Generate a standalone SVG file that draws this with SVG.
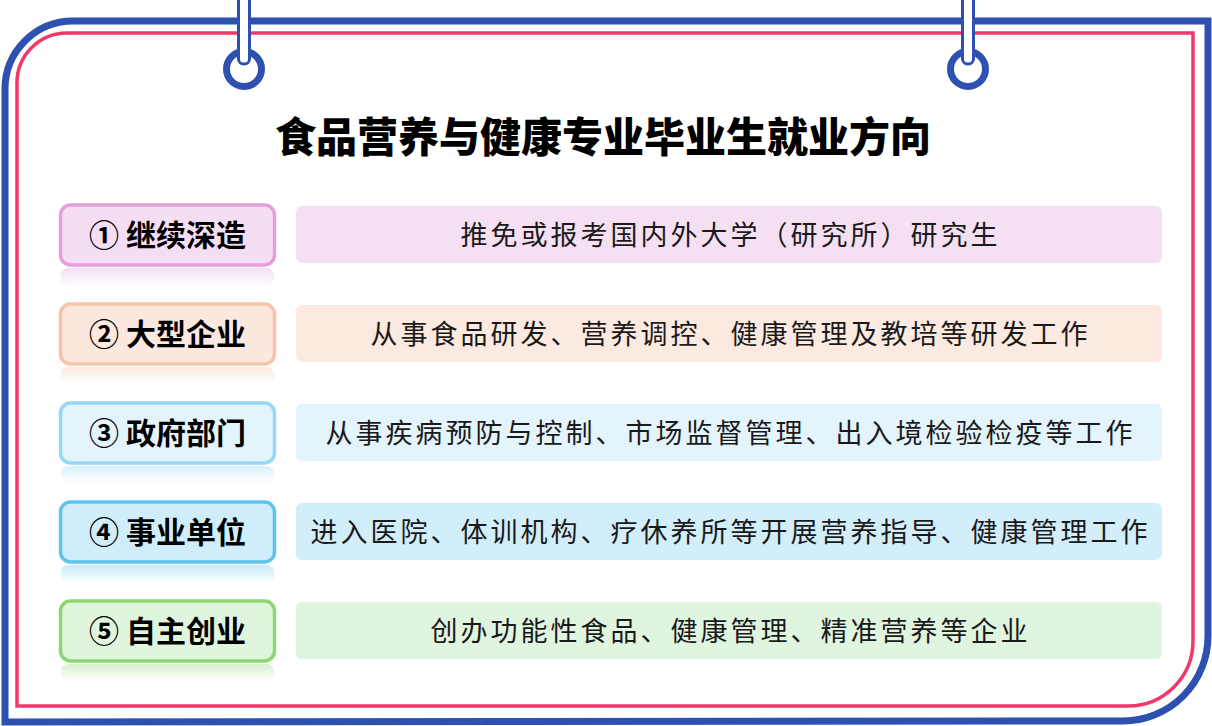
<svg xmlns="http://www.w3.org/2000/svg" width="1212" height="726" viewBox="0 0 1212 726">
<style>
.frame-b{fill:none;stroke:#2D50B1;stroke-width:7}
.frame-r{fill:none;stroke:#F0386B;stroke-width:3.5}
.ring{fill:#fff;stroke:#2D50B1;stroke-width:7}
.stick{fill:#fff;stroke:#2D50B1;stroke-width:3}
.title{font-family:"Noto Sans CJK SC","Noto Sans",sans-serif;font-weight:900;font-size:41px;fill:#000;text-anchor:middle}
.lab{font-family:"Noto Sans CJK SC","Noto Sans",sans-serif;font-weight:700;font-size:30px;fill:#000;text-anchor:middle}
.desc{font-family:"Noto Sans CJK SC","Noto Sans",sans-serif;font-weight:400;font-size:27px;letter-spacing:3px;fill:#1a1a1a;text-anchor:middle}
.box{stroke-width:3.5}
.refl{mask:url(#fade)}
</style>
<defs>
<linearGradient id="fg" x1="0" y1="0" x2="0" y2="1">
<stop offset="0" stop-color="#fff" stop-opacity="0.35"/>
<stop offset="1" stop-color="#fff" stop-opacity="0"/>
</linearGradient>
<mask id="fade" maskContentUnits="objectBoundingBox">
<rect x="0" y="0" width="1" height="1" fill="url(#fg)"/>
</mask>
</defs>
<rect width="1212" height="726" fill="#fff"/>
<g id="frame">
<path class="frame-b" d="M5,722 L5,89 A68,68 0 0 1 73,21 L1208,21 L1208,636 A85,85 0 0 1 1123,721 Z"/>
<path class="frame-r" d="M17,706 L17,84 A50,50 0 0 1 67,33 L1193,33 L1193,641 A65,65 0 0 1 1128,706 Z"/>
</g>
<g id="hanger-left">
<circle class="ring" cx="244" cy="69" r="17.5"/>
<rect class="stick" x="238.5" y="-4" width="11" height="68" rx="5"/>
</g>
<g id="hanger-right">
<circle class="ring" cx="968" cy="69" r="17.5"/>
<rect class="stick" x="962.5" y="-4" width="11" height="68" rx="5"/>
</g>
<g id="title">
<text class="title" x="603" y="152">食品营养与健康专业毕业生就业方向</text>
</g>
<g id="connectors"></g>
<g id="row1">
<rect class="box" x="60.5" y="205" width="214" height="60" rx="10" fill="#F5DEF3" stroke="#E3A1DC"/>
<rect class="refl" x="60.5" y="268" width="214" height="18" rx="8" fill="#E3A1DC"/>
<text class="lab" x="167.5" y="246">① 继续深造</text>
<rect x="296" y="206" width="866" height="57" rx="6" fill="#F5DFF3"/>
<text class="desc" x="730.5" y="245">推免或报考国内外大学（研究所）研究生</text>
</g>
<g id="row2">
<rect class="box" x="60.5" y="304" width="214" height="60" rx="10" fill="#FCE8DE" stroke="#F5C4A9"/>
<rect class="refl" x="60.5" y="367" width="214" height="18" rx="8" fill="#F5C4A9"/>
<text class="lab" x="167.5" y="345">② 大型企业</text>
<rect x="296" y="305" width="866" height="57" rx="6" fill="#FCE9E0"/>
<text class="desc" x="730.5" y="344">从事食品研发、营养调控、健康管理及教培等研发工作</text>
</g>
<g id="row3">
<rect class="box" x="60.5" y="403" width="214" height="60" rx="10" fill="#E3F4FC" stroke="#94D8F5"/>
<rect class="refl" x="60.5" y="466" width="214" height="18" rx="8" fill="#94D8F5"/>
<text class="lab" x="167.5" y="444">③ 政府部门</text>
<rect x="296" y="404" width="866" height="57" rx="6" fill="#E4F4FC"/>
<text class="desc" x="730.5" y="443">从事疾病预防与控制、市场监督管理、出入境检验检疫等工作</text>
</g>
<g id="row4">
<rect class="box" x="60.5" y="502" width="214" height="60" rx="10" fill="#CFEDFA" stroke="#5CC6EE"/>
<rect class="refl" x="60.5" y="565" width="214" height="18" rx="8" fill="#5CC6EE"/>
<text class="lab" x="167.5" y="543">④ 事业单位</text>
<rect x="296" y="503" width="866" height="57" rx="6" fill="#D2EEFA"/>
<text class="desc" x="730.5" y="542">进入医院、体训机构、疗休养所等开展营养指导、健康管理工作</text>
</g>
<g id="row5">
<rect class="box" x="60.5" y="601" width="214" height="60" rx="10" fill="#E0F5DE" stroke="#8ED674"/>
<rect class="refl" x="60.5" y="664" width="214" height="18" rx="8" fill="#8ED674"/>
<text class="lab" x="167.5" y="642">⑤ 自主创业</text>
<rect x="296" y="602" width="866" height="57" rx="6" fill="#E0F5E0"/>
<text class="desc" x="730.5" y="641">创办功能性食品、健康管理、精准营养等企业</text>
</g>
</svg>
